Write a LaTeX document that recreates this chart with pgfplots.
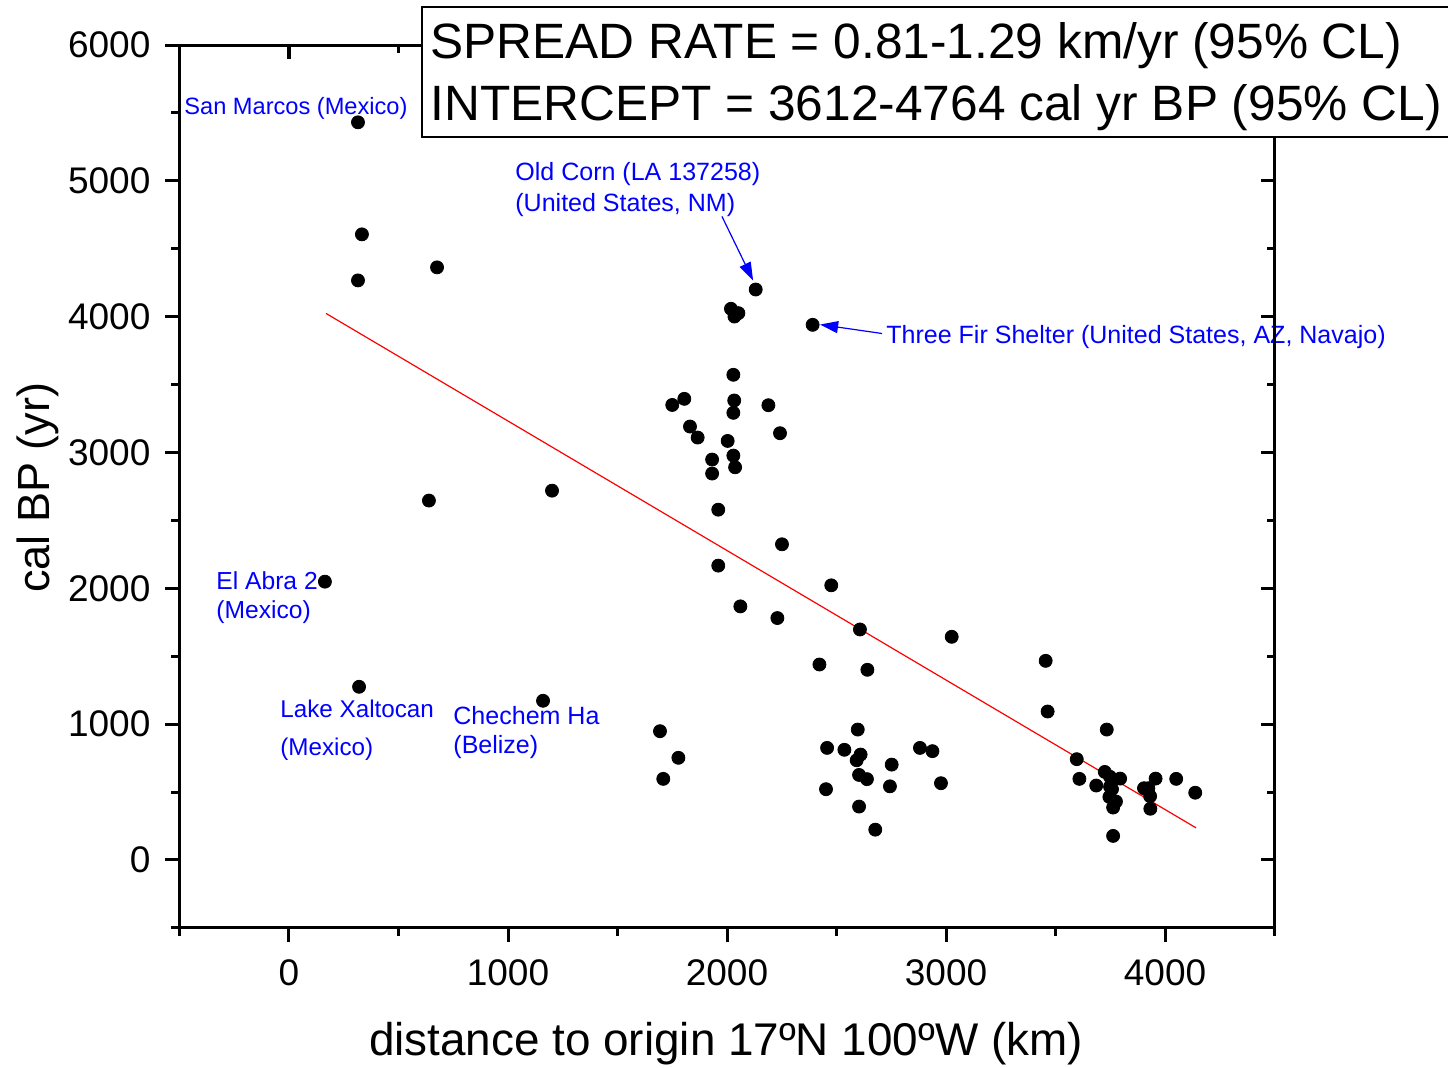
\documentclass[border=0pt]{standalone}
\usepackage{fontspec}
\setmainfont{Liberation Sans}
\usepackage{pgfplots}
\pgfplotsset{compat=1.18}
\usetikzlibrary{arrows.meta}
\begin{document}
\begin{tikzpicture}
\pgfplotsset{
  common/.style={
    scale only axis, width=547pt, height=441pt,
    xmin=-500, xmax=4500, ymin=-500, ymax=6000,
    xtick={0,1000,2000,3000,4000}, minor xtick={-500,500,1500,2500,3500,4500},
    ytick={0,1000,2000,3000,4000,5000,6000}, minor ytick={-500,500,1500,2500,3500,4500,5500},
    axis line style={line width=1.5pt},
    major tick length=7pt, minor tick length=4pt,
    tick style={black, line width=1.5pt},
    clip=false,
    /pgf/number format/1000 sep={},
    /pgf/number format/assume math mode=true,
    ticklabel style={font=\fontsize{18.5}{22}\selectfont},
    xticklabel style={yshift=-5.5pt},
    yticklabel style={xshift=-4pt},
  }
}
\begin{axis}[common, tick align=outside, xtick pos=left, ytick pos=left]
\addplot[red, line width=0.6pt] coordinates {(169,4024) (4142,236)};
\addplot[only marks, mark=*, mark size=3.25pt, black] table {
x y
315 5431
333 4606
315 4267
676 4363
639 2646
1201 2719
164 2049
320 1275
1160 1172
2131 4200
2018 4058
2052 4026
2034 4001
2391 3940
2029 3572
1805 3395
1750 3350
2033 3383
2029 3292
2189 3348
1831 3191
1866 3110
2003 3085
2242 3142
1932 2948
2029 2977
2037 2891
1932 2845
1960 2579
2251 2324
1960 2167
2476 2022
2061 1867
2230 1781
2607 1697
3026 1643
2422 1439
2641 1400
1694 948
1778 752
1709 597
2597 960
2457 825
2536 811
2610 776
2592 734
2752 702
2881 825
2938 801
2603 626
2639 595
2452 521
2744 542
2977 565
2603 393
2677 223
3455 1466
3464 1093
3734 960
3597 742
3609 597
3686 548
3725 648
3749 612
3795 599
3758 521
3749 540
3746 464
3776 430
3763 386
3763 177
3904 528
3924 528
3932 469
3933 377
3957 599
4051 597
4138 495
};
\draw[blue, line width=0.6pt, -{Triangle[length=9pt,width=6pt]}] (axis cs:1977,4738) -- (axis cs:2119,4267);
\draw[blue, line width=0.6pt, -{Triangle[length=9pt,width=6pt]}] (axis cs:2708,3876) -- (axis cs:2425,3942);
\begin{scope}[every node/.style={anchor=west, inner sep=0pt, text=blue}]
\node[font=\fontsize{11.8}{14}\selectfont] at (axis cs:-479.5,5535) {San Marcos (Mexico)};
\node[font=\fontsize{12.5}{15}\selectfont] at (axis cs:1032,5050) {Old Corn (LA 137258)};
\node[font=\fontsize{12.5}{15}\selectfont] at (axis cs:1032,4822) {(United States, NM)};
\node[font=\fontsize{12.5}{15}\selectfont] at (axis cs:2726,3853) {Three Fir Shelter (United States, AZ, Navajo)};
\node[font=\fontsize{12.3}{15}\selectfont] at (axis cs:-333,2056) {El Abra 2};
\node[font=\fontsize{12.3}{15}\selectfont] at (axis cs:-333,1828) {(Mexico)};
\node[font=\fontsize{12.1}{15}\selectfont] at (axis cs:-41,1112) {Lake Xaltocan};
\node[font=\fontsize{12.1}{15}\selectfont] at (axis cs:-41,812) {(Mexico)};
\node[font=\fontsize{12.5}{15}\selectfont] at (axis cs:749,1062) {Chechem Ha};
\node[font=\fontsize{12.5}{15}\selectfont] at (axis cs:749,832) {(Belize)};
\end{scope}
\node[font=\fontsize{22.9}{27}\selectfont] at (axis cs:1995,-1349) {distance to origin 17ºN 100ºW (km)};
\node[font=\fontsize{22.5}{26}\selectfont, rotate=90] at (axis cs:-1146,2741) {cal BP (yr)};
\coordinate (BL) at (axis cs:-1319.6,-1525.8);
\coordinate (TR) at (axis cs:5292.2,6331.7);
\coordinate (B1) at (axis cs:607.3,6279);
\coordinate (B2) at (axis cs:5330,5321);
\coordinate (T1) at (axis cs:644,5992);
\coordinate (T2) at (axis cs:644,5542);
\end{axis}
\begin{axis}[common, tick align=inside, xtick pos=right, ytick pos=right, xticklabels={}, yticklabels={}]
\end{axis}
\draw[black, line width=1pt, fill=white] (B1) rectangle (B2);
\node[anchor=west, inner sep=0pt, font=\fontsize{24.8}{28}\selectfont] at (T1) {SPREAD RATE = 0.81-1.29 km/yr (95\% CL)};
\node[anchor=west, inner sep=0pt, font=\fontsize{24.8}{28}\selectfont] at (T2) {INTERCEPT = 3612-4764 cal yr BP (95\% CL)};
\pgfresetboundingbox
\path[use as bounding box] (BL) rectangle (TR);
\end{tikzpicture}
\end{document}
